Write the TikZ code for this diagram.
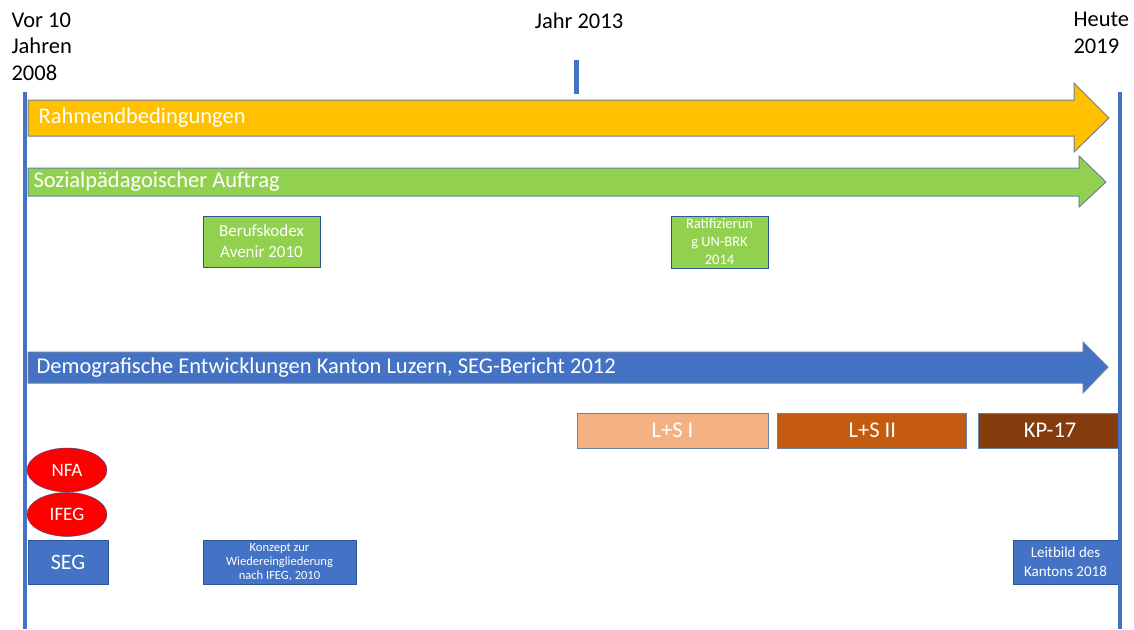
\documentclass[tikz,border=0pt]{standalone}
\usepackage{fontspec}
\setmainfont{Carlito}
\usetikzlibrary{shapes.geometric, positioning}
\definecolor{msorange}{HTML}{FFC000}
\definecolor{msgreen}{HTML}{92D050}
\definecolor{msblue}{HTML}{4472C4}
\definecolor{lightrust}{HTML}{F4B183}
\definecolor{rust}{HTML}{C55A11}
\definecolor{darkrust}{HTML}{843C0C}
\definecolor{edgeblue}{HTML}{2F5597}
\definecolor{arrowedge}{HTML}{6A7FA3}
\tikzstyle{box} = [rectangle, draw=edgeblue, line width=0.8pt, text=white, align=center, inner sep=1pt]
\tikzstyle{greenbox} = [box, fill=msgreen]
\tikzstyle{bluebox} = [box, fill=msblue, minimum height=44pt]
\tikzstyle{phase} = [box, draw=arrowedge, minimum height=35pt, font=\fontsize{22.5}{26}\selectfont]
\tikzstyle{law} = [ellipse, draw=edgeblue, fill=red, text=white, minimum width=80pt, minimum height=44pt, inner sep=0pt, font=\fontsize{19}{22}\selectfont]
\tikzstyle{bigarrow} = [draw=arrowedge, line width=1pt]
\tikzstyle{arrowtext} = [anchor=west, text=white, font=\fontsize{22.5}{26}\selectfont]
\tikzstyle{yeartext} = [font=\fontsize{22.5}{26.5}\selectfont]
\tikzstyle{timeline} = [draw=msblue, line width=4pt]

\begin{document}
\begin{tikzpicture}[x=1pt, y=-1pt]
        \useasboundingbox (0,0) rectangle (1134,629);

        % Jahreszahlen
        \node (past) [yeartext, anchor=north west, align=left] at (8,9) {Vor 10\\Jahren\\2008};
        \node (mid) [yeartext, anchor=north] at (579,9) {Jahr 2013};
        \node (today) [yeartext, anchor=north west, align=left] at (1070,9) {Heute\\2019};

        % Pfeile
        \draw [bigarrow, fill=msorange] (28,100) -- (1074,100) -- (1074,83) -- (1109,118) -- (1074,152) -- (1074,136) -- (28,136) -- cycle;
        \node (rahmen) [arrowtext] at (35,118) {Rahmendbedingungen};

        \draw [bigarrow, fill=msgreen] (28,168) -- (1079,168) -- (1079,156) -- (1106,182) -- (1079,207) -- (1079,196) -- (28,196) -- cycle;
        \node (auftrag) [arrowtext] at (30,182) {Sozialpädagoischer Auftrag};

        \draw [bigarrow, fill=msblue] (28,352) -- (1083,352) -- (1083,342) -- (1108,367) -- (1083,393) -- (1083,383) -- (28,383) -- cycle;
        \node (demo) [arrowtext] at (33,368) {Demografische Entwicklungen Kanton Luzern, SEG-Bericht 2012};

        % Meilensteine
        \node (kodex) [greenbox, minimum width=117pt, minimum height=51pt, font=\fontsize{17}{21}\selectfont] at (261.5,241.5) {Berufskodex\\Avenir 2010};
        \node (brk) [greenbox, minimum width=97pt, minimum height=52pt, font=\fontsize{14.5}{18}\selectfont] at (719.5,242) {Ratifizierun\\g UN-BRK\\2014};

        % Phasen
        \node (lsone) [phase, fill=lightrust, minimum width=191pt] at (672.5,430.5) {L+S I};
        \node (lstwo) [phase, fill=rust, minimum width=189pt, right=9pt of lsone] {L+S II};
        \node (kp) [phase, fill=darkrust, minimum width=143pt, right=11pt of lstwo] {KP-17};

        % Gesetze
        \node (nfa) [law] at (67,470) {NFA};
        \node (ifeg) [law, below=0pt of nfa] {IFEG};
        \node (seg) [bluebox, minimum width=80pt, font=\fontsize{22}{24}\selectfont] at (68,562) {SEG};
        \node (konzept) [bluebox, minimum width=153pt, font=\fontsize{12.5}{14}\selectfont] at (279.5,562) {Konzept zur\\Wiedereingliederung\\nach IFEG, 2010};
        \node (leitbild) [bluebox, minimum width=105pt, font=\fontsize{15}{19}\selectfont] at (1065.5,562) {Leitbild des\\Kantons 2018};

        % Zeitachsen
        \coordinate (starttop) at (25,92);
        \coordinate (startbottom) at (25,629);
        \coordinate (endtop) at (1120,92);
        \coordinate (endbottom) at (1120,629);
        \coordinate (midtop) at (576,60);
        \coordinate (midbottom) at (576,94);
        \draw [timeline] (starttop) -- (startbottom);
        \draw [timeline] (endtop) -- (endbottom);
        \draw [timeline, line width=5pt] (midtop) -- (midbottom);
    \end{tikzpicture}
\end{document}
